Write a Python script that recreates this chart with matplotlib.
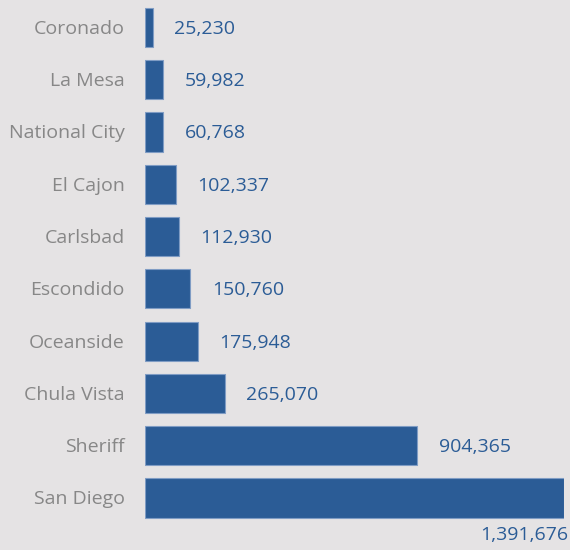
import matplotlib.pyplot as plt

cities = ['San Diego', 'Sheriff', 'Chula Vista', 'Oceanside', 'Escondido',
          'Carlsbad', 'El Cajon', 'National City', 'La Mesa', 'Coronado']
population = [1391676, 904365, 265070, 175948, 150760,
              112930, 102337, 60768, 59982, 25230]

bg = '#e5e3e4'
blue = '#2b5c96'
gray = '#878787'

plt.rcParams['font.family'] = ['Open Sans', 'DejaVu Sans']

fig = plt.figure(figsize=(5.7, 5.5), dpi=100, facecolor=bg)
ax = fig.add_axes([145 / 570, 0, 419 / 570, 1], facecolor=bg)

ypos = list(range(len(cities)))
ax.barh(ypos, population, height=0.75, color=blue, edgecolor='#7f9cc4', linewidth=0.8)

ax.set_xlim(0, max(population))
ax.set_ylim(-0.995, len(cities) - 1 + 0.526)

# offsets are in points (1pt = 1.39px at 100 dpi)
for i, (name, val) in enumerate(zip(cities, population)):
    lab = f'{val:,}'
    ax.annotate(name, xy=(0, i), xytext=(-14.4, -1), textcoords='offset points',
                ha='right', va='center', fontsize=14, color=gray)
    if val == max(population):
        ax.annotate(lab, xy=(val, i), xytext=(3, -27), textcoords='offset points',
                    ha='right', va='center', fontsize=14, color=blue,
                    annotation_clip=False)
    else:
        ax.annotate(lab, xy=(val, i), xytext=(15.5, -1), textcoords='offset points',
                    ha='left', va='center', fontsize=14, color=blue)

ax.set_xticks([])
ax.set_yticks([])
for s in ax.spines.values():
    s.set_visible(False)

fig.savefig('out.png', dpi=100, facecolor=bg)
